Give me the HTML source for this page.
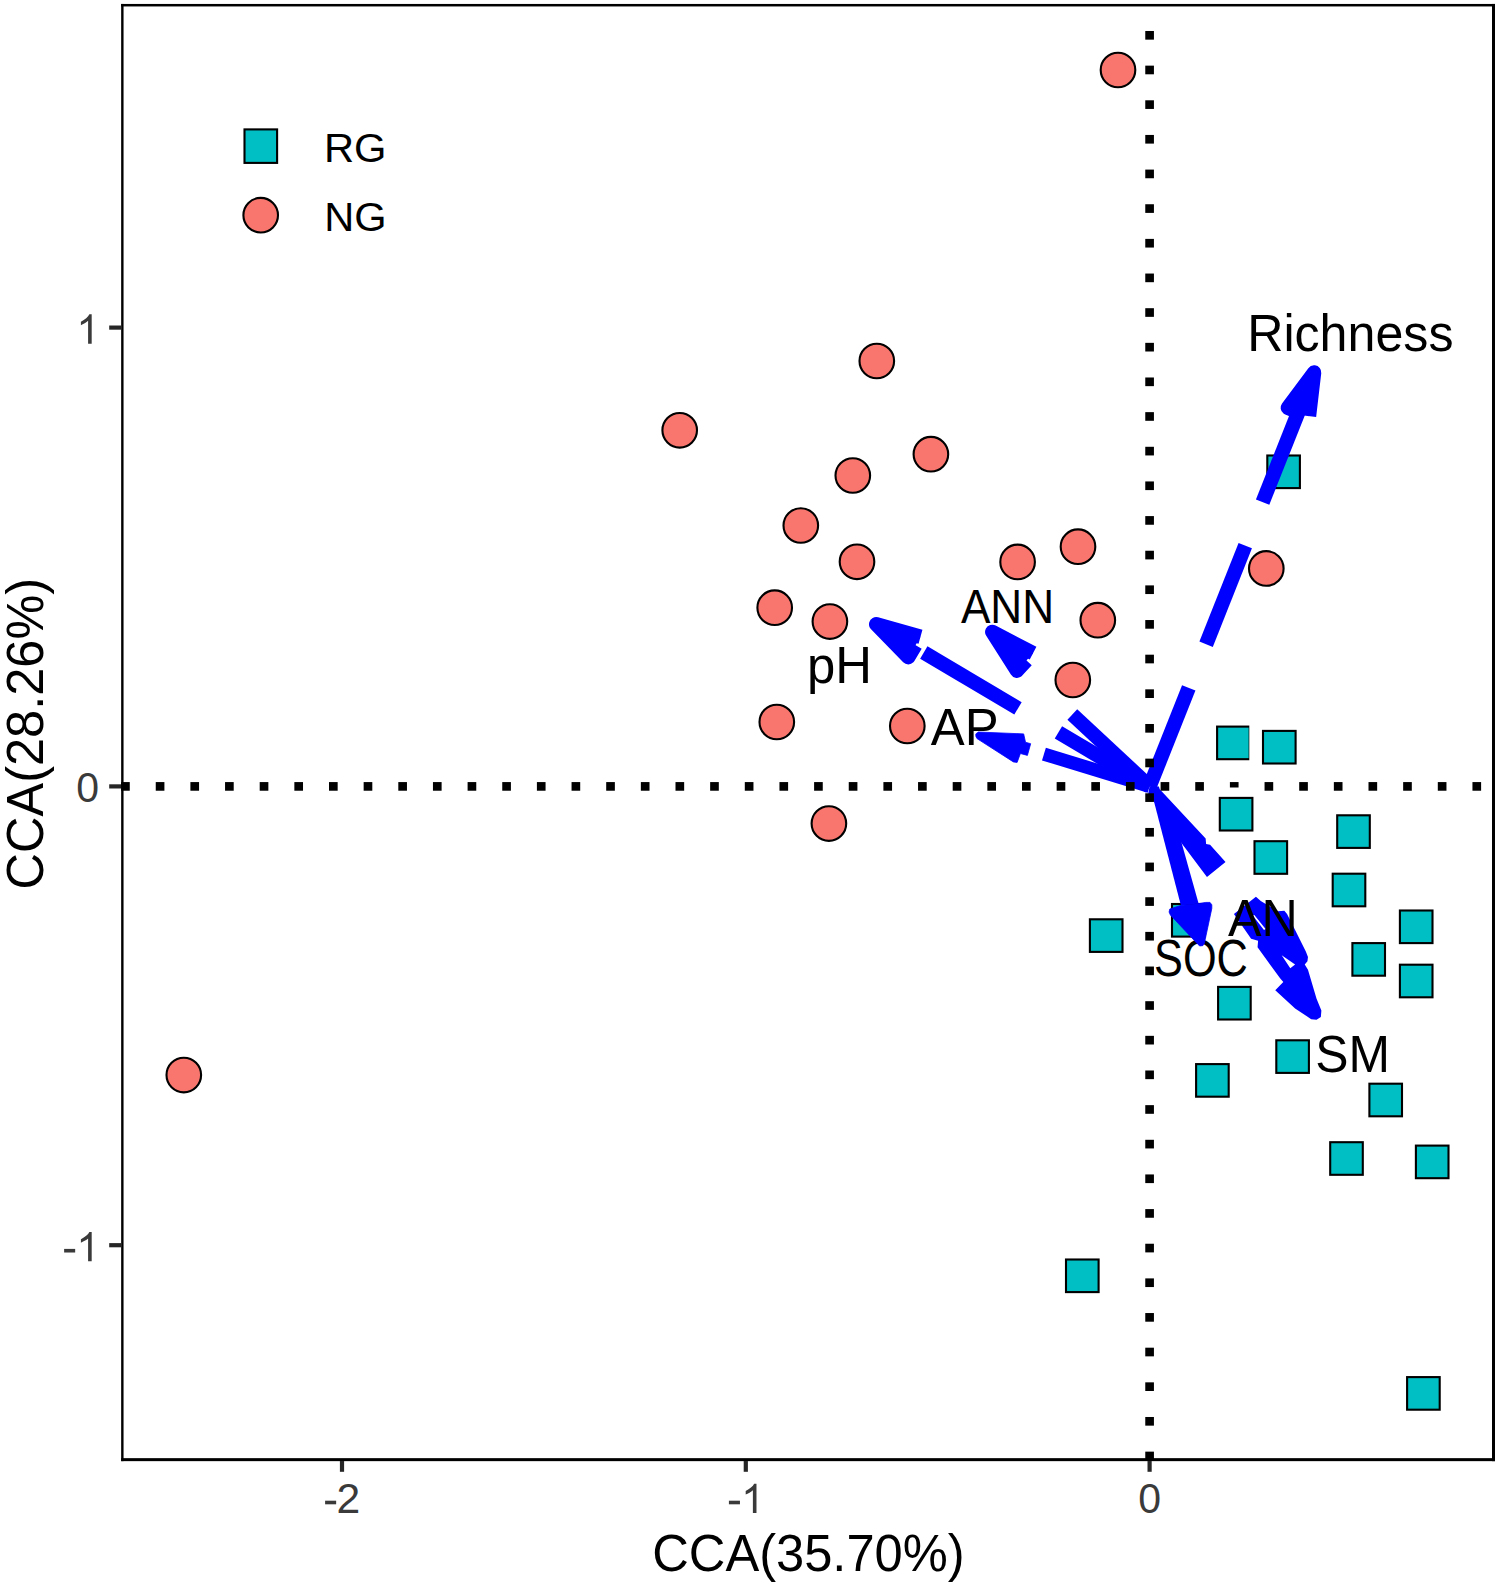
<!DOCTYPE html>
<html><head><meta charset="utf-8"><title>CCA</title>
<style>html,body{margin:0;padding:0;background:#fff}body{width:1499px;height:1585px;overflow:hidden;font-family:"Liberation Sans", sans-serif}</style></head>
<body>
<svg width="1499" height="1585" viewBox="0 0 1499 1585" style="display:block;font-family:'Liberation Sans',sans-serif">
<rect x="0" y="0" width="1499" height="1585" fill="#fff"/>
<g fill="#F8766D" stroke="#000" stroke-width="2.1">
<circle cx="1118.0" cy="70.0" r="17.3"/>
<circle cx="876.8" cy="361.0" r="17.3"/>
<circle cx="679.7" cy="430.3" r="17.3"/>
<circle cx="930.9" cy="454.2" r="17.3"/>
<circle cx="852.8" cy="475.5" r="17.3"/>
<circle cx="800.8" cy="525.5" r="17.3"/>
<circle cx="857.0" cy="561.8" r="17.3"/>
<circle cx="1017.6" cy="561.9" r="17.3"/>
<circle cx="1078.0" cy="546.7" r="17.3"/>
<circle cx="1266.3" cy="568.4" r="17.3"/>
<circle cx="774.7" cy="607.7" r="17.3"/>
<circle cx="829.9" cy="621.6" r="17.3"/>
<circle cx="1097.8" cy="620.2" r="17.3"/>
<circle cx="1072.8" cy="680.0" r="17.3"/>
<circle cx="776.8" cy="722.0" r="17.3"/>
<circle cx="907.3" cy="726.0" r="17.3"/>
<circle cx="828.9" cy="823.6" r="17.3"/>
<circle cx="183.8" cy="1075.1" r="17.3"/>
</g>
<g fill="#00BFC4" stroke="#000" stroke-width="2.1">
<rect x="1267.3" y="455.5" width="32.6" height="32.6"/>
<rect x="1217.1" y="726.6" width="32.6" height="32.6"/>
<rect x="1263.0" y="730.9" width="32.6" height="32.6"/>
<rect x="1219.8" y="797.9" width="32.6" height="32.6"/>
<rect x="1337.2" y="815.3" width="32.6" height="32.6"/>
<rect x="1254.5" y="841.2" width="32.6" height="32.6"/>
<rect x="1332.7" y="873.7" width="32.6" height="32.6"/>
<rect x="1172.0" y="904.0" width="32.6" height="32.6"/>
<rect x="1089.9" y="919.3" width="32.6" height="32.6"/>
<rect x="1399.9" y="910.5" width="32.6" height="32.6"/>
<rect x="1352.4" y="943.1" width="32.6" height="32.6"/>
<rect x="1399.9" y="964.7" width="32.6" height="32.6"/>
<rect x="1218.1" y="986.9" width="32.6" height="32.6"/>
<rect x="1276.3" y="1040.3" width="32.6" height="32.6"/>
<rect x="1196.1" y="1064.1" width="32.6" height="32.6"/>
<rect x="1369.4" y="1083.7" width="32.6" height="32.6"/>
<rect x="1330.2" y="1142.2" width="32.6" height="32.6"/>
<rect x="1415.9" y="1145.6" width="32.6" height="32.6"/>
<rect x="1066.0" y="1259.5" width="32.6" height="32.6"/>
<rect x="1407.1" y="1377.1" width="32.6" height="32.6"/>
</g>
<text transform="translate(1154.05 975.99) scale(0.8442 1)" font-size="51.31px" fill="#000">SOC</text>
<g id="arrows">
<line x1="1149.60" y1="786.40" x2="1188.75" y2="687.89" stroke="#0000FF" stroke-width="14.4"/>
<line x1="1206.11" y1="644.22" x2="1245.26" y2="545.71" stroke="#0000FF" stroke-width="14.4"/>
<line x1="1262.62" y1="502.04" x2="1301.77" y2="403.53" stroke="#0000FF" stroke-width="14.4"/>
<path d="M1308.99 416.20L1314.10 372.50L1287.82 407.79Z" fill="#0000FF"/>
<path d="M1308.99 416.20L1314.10 372.50L1287.82 407.79L1300.83 412.96" fill="none" stroke="#0000FF" stroke-width="14.4" stroke-linejoin="round"/>
<line x1="1149.60" y1="786.40" x2="1058.42" y2="732.34" stroke="#0000FF" stroke-width="14.4"/>
<line x1="1017.99" y1="708.37" x2="923.80" y2="652.52" stroke="#0000FF" stroke-width="14.4"/>
<path d="M920.49 636.72L876.20 624.30L908.35 657.20Z" fill="#0000FF"/>
<path d="M920.49 636.72L876.20 624.30L908.35 657.20L915.49 645.16" fill="none" stroke="#0000FF" stroke-width="14.4" stroke-linejoin="round"/>
<line x1="1149.60" y1="786.40" x2="1072.32" y2="714.58" stroke="#0000FF" stroke-width="14.4"/>
<path d="M1033.07 653.21L992.30 631.90L1016.95 670.74Z" fill="#0000FF"/>
<path d="M1033.07 653.21L992.30 631.90L1016.95 670.74L1026.42 660.43" fill="none" stroke="#0000FF" stroke-width="14.4" stroke-linejoin="round"/>
<line x1="1149.60" y1="786.40" x2="1043.93" y2="754.09" stroke="#0000FF" stroke-width="13.2"/>
<path d="M975.85 733.90L978.37 732.03L1023.67 733.90L1025.54 742.30L1030.68 743.70L1027.41 755.38L1020.40 753.51L1017.13 762.38L1013.40 761.92L976.97 738.57L975.85 736.23Z" fill="#0000FF" stroke="#0000FF" stroke-width="0.8" stroke-linejoin="round"/>
<path d="M1153.60 800.00L1169.60 800.00L1198.60 903.60L1180.90 905.40Z" fill="#0000FF"/>
<path d="M1169.81 909.02L1169.09 912.02L1170.41 915.02L1198.02 944.43L1199.82 945.93L1202.82 945.63L1204.32 943.53L1211.82 908.42L1211.82 904.81L1210.02 902.41L1205.82 902.41L1198.62 903.61L1180.91 905.41Z" fill="#0000FF" stroke="#0000FF" stroke-width="0.8" stroke-linejoin="round"/>
<path d="M1149.58 786.31L1158.85 786.49L1159.74 789.14L1205.65 838.59L1206.09 843.89L1210.07 844.77L1225.52 861.99L1206.98 877.00L1181.81 843.44L1154.00 801.50L1148.26 793.55Z" fill="#0000FF"/>
<path d="M1255.94 896.82L1260.77 901.11L1277.93 911.30L1284.37 910.77L1287.05 913.99L1295.10 930.08L1305.83 951.54L1307.97 956.90L1307.44 961.19L1304.75 964.41L1307.97 969.77L1316.56 998.74L1321.38 1010.54L1320.85 1016.98L1316.56 1019.66L1311.19 1019.13L1295.10 1008.40L1275.25 990.16L1283.30 982.11L1280.08 978.36L1257.55 947.24L1258.09 940.81L1251.11 938.66L1233.95 913.99ZM1281.69 955.29L1295.10 964.41L1290.27 968.17ZM1252.72 915.60L1254.33 915.06L1265.60 929.01L1263.99 930.08Z" fill="#0000FF" fill-rule="evenodd"/>
</g>
<g fill="#000">
<rect x="121.10" y="782.07" width="8.66" height="8.66"/>
<rect x="155.75" y="782.07" width="8.66" height="8.66"/>
<rect x="190.40" y="782.07" width="8.66" height="8.66"/>
<rect x="225.05" y="782.07" width="8.66" height="8.66"/>
<rect x="259.70" y="782.07" width="8.66" height="8.66"/>
<rect x="294.35" y="782.07" width="8.66" height="8.66"/>
<rect x="329.00" y="782.07" width="8.66" height="8.66"/>
<rect x="363.65" y="782.07" width="8.66" height="8.66"/>
<rect x="398.30" y="782.07" width="8.66" height="8.66"/>
<rect x="432.95" y="782.07" width="8.66" height="8.66"/>
<rect x="467.60" y="782.07" width="8.66" height="8.66"/>
<rect x="502.25" y="782.07" width="8.66" height="8.66"/>
<rect x="536.90" y="782.07" width="8.66" height="8.66"/>
<rect x="571.55" y="782.07" width="8.66" height="8.66"/>
<rect x="606.20" y="782.07" width="8.66" height="8.66"/>
<rect x="640.85" y="782.07" width="8.66" height="8.66"/>
<rect x="675.50" y="782.07" width="8.66" height="8.66"/>
<rect x="710.15" y="782.07" width="8.66" height="8.66"/>
<rect x="744.80" y="782.07" width="8.66" height="8.66"/>
<rect x="779.45" y="782.07" width="8.66" height="8.66"/>
<rect x="814.10" y="782.07" width="8.66" height="8.66"/>
<rect x="848.75" y="782.07" width="8.66" height="8.66"/>
<rect x="883.40" y="782.07" width="8.66" height="8.66"/>
<rect x="918.05" y="782.07" width="8.66" height="8.66"/>
<rect x="952.70" y="782.07" width="8.66" height="8.66"/>
<rect x="987.35" y="782.07" width="8.66" height="8.66"/>
<rect x="1022.00" y="782.07" width="8.66" height="8.66"/>
<rect x="1056.65" y="782.07" width="8.66" height="8.66"/>
<rect x="1091.30" y="782.07" width="8.66" height="8.66"/>
<rect x="1125.95" y="782.07" width="8.66" height="8.66"/>
<rect x="1160.60" y="782.07" width="8.66" height="8.66"/>
<rect x="1195.25" y="782.07" width="8.66" height="8.66"/>
<rect x="1229.90" y="782.07" width="8.66" height="8.66"/>
<rect x="1264.55" y="782.07" width="8.66" height="8.66"/>
<rect x="1299.20" y="782.07" width="8.66" height="8.66"/>
<rect x="1333.85" y="782.07" width="8.66" height="8.66"/>
<rect x="1368.50" y="782.07" width="8.66" height="8.66"/>
<rect x="1403.15" y="782.07" width="8.66" height="8.66"/>
<rect x="1437.80" y="782.07" width="8.66" height="8.66"/>
<rect x="1472.45" y="782.07" width="8.66" height="8.66"/>
<rect x="1145.27" y="1451.64" width="8.66" height="8.66"/>
<rect x="1145.27" y="1416.99" width="8.66" height="8.66"/>
<rect x="1145.27" y="1382.34" width="8.66" height="8.66"/>
<rect x="1145.27" y="1347.69" width="8.66" height="8.66"/>
<rect x="1145.27" y="1313.04" width="8.66" height="8.66"/>
<rect x="1145.27" y="1278.39" width="8.66" height="8.66"/>
<rect x="1145.27" y="1243.74" width="8.66" height="8.66"/>
<rect x="1145.27" y="1209.09" width="8.66" height="8.66"/>
<rect x="1145.27" y="1174.44" width="8.66" height="8.66"/>
<rect x="1145.27" y="1139.79" width="8.66" height="8.66"/>
<rect x="1145.27" y="1105.14" width="8.66" height="8.66"/>
<rect x="1145.27" y="1070.49" width="8.66" height="8.66"/>
<rect x="1145.27" y="1035.84" width="8.66" height="8.66"/>
<rect x="1145.27" y="1001.19" width="8.66" height="8.66"/>
<rect x="1145.27" y="966.54" width="8.66" height="8.66"/>
<rect x="1145.27" y="931.89" width="8.66" height="8.66"/>
<rect x="1145.27" y="897.24" width="8.66" height="8.66"/>
<rect x="1145.27" y="862.59" width="8.66" height="8.66"/>
<rect x="1145.27" y="827.94" width="8.66" height="8.66"/>
<rect x="1145.27" y="793.29" width="8.66" height="8.66"/>
<rect x="1145.27" y="758.64" width="8.66" height="8.66"/>
<rect x="1145.27" y="723.99" width="8.66" height="8.66"/>
<rect x="1145.27" y="689.34" width="8.66" height="8.66"/>
<rect x="1145.27" y="654.69" width="8.66" height="8.66"/>
<rect x="1145.27" y="620.04" width="8.66" height="8.66"/>
<rect x="1145.27" y="585.39" width="8.66" height="8.66"/>
<rect x="1145.27" y="550.74" width="8.66" height="8.66"/>
<rect x="1145.27" y="516.09" width="8.66" height="8.66"/>
<rect x="1145.27" y="481.44" width="8.66" height="8.66"/>
<rect x="1145.27" y="446.79" width="8.66" height="8.66"/>
<rect x="1145.27" y="412.14" width="8.66" height="8.66"/>
<rect x="1145.27" y="377.49" width="8.66" height="8.66"/>
<rect x="1145.27" y="342.84" width="8.66" height="8.66"/>
<rect x="1145.27" y="308.19" width="8.66" height="8.66"/>
<rect x="1145.27" y="273.54" width="8.66" height="8.66"/>
<rect x="1145.27" y="238.89" width="8.66" height="8.66"/>
<rect x="1145.27" y="204.24" width="8.66" height="8.66"/>
<rect x="1145.27" y="169.59" width="8.66" height="8.66"/>
<rect x="1145.27" y="134.94" width="8.66" height="8.66"/>
<rect x="1145.27" y="100.29" width="8.66" height="8.66"/>
<rect x="1145.27" y="65.64" width="8.66" height="8.66"/>
<rect x="1145.27" y="30.99" width="8.66" height="8.66"/>
</g>
<rect x="1249.3" y="724" width="3.2" height="38.5" fill="#fff"/>
<rect x="1228" y="787.5" width="12" height="4" fill="#fff"/>
<g fill="#000">
<rect x="121.15" y="3.95" width="2.4" height="1457.20"/>
<rect x="1492.00" y="3.95" width="3.0" height="1457.20"/>
<rect x="121.15" y="3.95" width="1373.85" height="2.5"/>
<rect x="121.15" y="1458.15" width="1373.85" height="3.0"/>
</g>
<g stroke="#262626" stroke-width="4.2">
<line x1="109.2" y1="327.60" x2="121.00" y2="327.60"/>
<line x1="109.2" y1="786.40" x2="121.00" y2="786.40"/>
<line x1="109.2" y1="1245.20" x2="121.00" y2="1245.20"/>
<line x1="342.00" y1="1461.00" x2="342.00" y2="1471.8"/>
<line x1="745.80" y1="1461.00" x2="745.80" y2="1471.8"/>
<line x1="1149.60" y1="1461.00" x2="1149.60" y2="1471.8"/>
</g>
<path transform="translate(76.45 343.70) scale(0.019971 -0.019971)" d="M763 0H583V1147Q518 1085 412.5 1023Q307 961 223 930V1104Q374 1175 487 1276Q600 1377 647 1472H763Z" fill="#3a3a3a"/>
<text transform="translate(76.26 802.43) scale(0.9795 1)" font-size="41.91px" fill="#3a3a3a">0</text>
<rect x="64.13" y="1248.90" width="11.04" height="3.61" fill="#3a3a3a"/>
<path transform="translate(76.45 1261.30) scale(0.019971 -0.019971)" d="M763 0H583V1147Q518 1085 412.5 1023Q307 961 223 930V1104Q374 1175 487 1276Q600 1377 647 1472H763Z" fill="#3a3a3a"/>
<rect x="325.11" y="1500.70" width="11.04" height="3.61" fill="#3a3a3a"/>
<text transform="translate(336.60 1513.10) scale(1.0150 1)" font-size="42.01px" fill="#3a3a3a">2</text>
<rect x="728.91" y="1500.70" width="11.04" height="3.61" fill="#3a3a3a"/>
<path transform="translate(741.24 1513.10) scale(0.019971 -0.019971)" d="M763 0H583V1147Q518 1085 412.5 1023Q307 961 223 930V1104Q374 1175 487 1276Q600 1377 647 1472H763Z" fill="#3a3a3a"/>
<text transform="translate(1138.16 1513.03) scale(0.9795 1)" font-size="41.91px" fill="#3a3a3a">0</text>
<text transform="translate(652.27 1571.00) scale(0.9673 1)" font-size="52.36px" fill="#000">CCA(35.70%)</text>
<text transform="translate(43.0 889.43) rotate(-90) scale(0.9648 1)" font-size="52.36px" fill="#000">CCA(28.26%)</text>
<rect x="244.5" y="129.40" width="32.6" height="33.5" fill="#00BFC4" stroke="#000" stroke-width="2.1"/>
<circle cx="260.7" cy="215.2" r="17.3" fill="#F8766D" stroke="#000" stroke-width="2.1"/>
<text transform="translate(323.96 162.00) scale(1.0242 1)" font-size="40.73px" fill="#000">RG</text>
<text transform="translate(324.17 231.10) scale(1.0097 1)" font-size="41.16px" fill="#000">NG</text>
<text transform="translate(1247.16 350.90) scale(0.9858 1)" font-size="50.91px" fill="#000">Richness</text>
<text transform="translate(960.89 623.40) scale(0.9141 1)" font-size="48.29px" fill="#000">ANN</text>
<text transform="translate(806.89 683.40) scale(0.9854 1)" font-size="51.64px" fill="#000">pH</text>
<text transform="translate(930.87 745.10) scale(0.9850 1)" font-size="51.64px" fill="#000">AP</text>
<text transform="translate(1227.97 936.40) scale(0.9681 1)" font-size="51.93px" fill="#000">AN</text>
<text transform="translate(1315.26 1071.70) scale(0.9597 1)" font-size="51.93px" fill="#000">SM</text>
</svg>
</body></html>
